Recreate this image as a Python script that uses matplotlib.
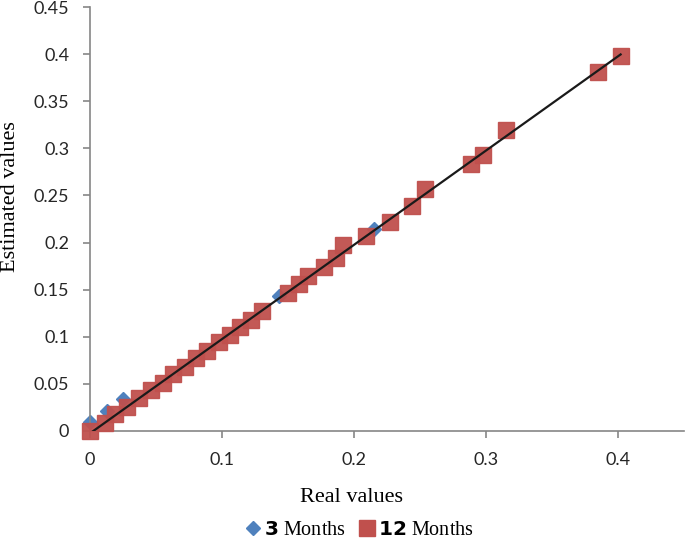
import numpy as np
import matplotlib
matplotlib.use("Agg")
import matplotlib.pyplot as plt
from matplotlib.lines import Line2D

# Values
real_3m = [0.000, 0.013, 0.025, 0.143, 0.215]
est_3m = [0.010, 0.021, 0.034, 0.143, 0.214]

real_12m = [0.000, 0.011, 0.019, 0.028, 0.037, 0.046, 0.055, 0.063, 0.072, 0.080,
            0.089, 0.098, 0.106, 0.114, 0.122, 0.130, 0.150, 0.158, 0.165, 0.177,
            0.186, 0.192, 0.209, 0.227, 0.244, 0.254, 0.289, 0.298, 0.315, 0.385, 0.402]
est_12m = [0.000, 0.009, 0.018, 0.026, 0.035, 0.043, 0.051, 0.060, 0.068, 0.077,
           0.085, 0.094, 0.102, 0.110, 0.118, 0.127, 0.147, 0.156, 0.165, 0.174,
           0.184, 0.197, 0.207, 0.222, 0.239, 0.257, 0.283, 0.293, 0.320, 0.381, 0.398]

x_ticks = [0, 0.1, 0.2, 0.3, 0.4]
y_ticks = [0, 0.05, 0.1, 0.15, 0.2, 0.25, 0.3, 0.35, 0.4, 0.45]

blue = "#4F81BD"
red = "#C0504D"
gray = "#868686"

plt.rcParams["mathtext.fontset"] = "dejavusans"

fig = plt.figure(figsize=(6.85, 5.42), dpi=100)
ax = fig.add_axes([0.1314, 0.2048, 0.8671, 0.7822])

# Scatter points
ax.plot(real_3m, est_3m, linestyle="none", marker="D", markersize=7,
        color=blue, zorder=2, clip_on=False)
ax.plot(real_12m, est_12m, linestyle="none", marker="s", markersize=11.5,
        color=red, alpha=0.95, zorder=3, clip_on=False)

# Linear trend line of the 12 month values
coef = np.polyfit(real_12m, est_12m, 1)
xl = np.array([0, max(real_12m)])
ax.plot(xl, np.polyval(coef, xl), color="#1a1a1a", linewidth=1.6, zorder=4)

ax.set_xlim(0, 0.45)
ax.set_ylim(0, 0.45)
ax.set_xticks(x_ticks)
ax.set_xticklabels(["0", "0.1", "0.2", "0.3", "0.4"])
ax.set_yticks(y_ticks)
ax.set_yticklabels(["0", "0.05", "0.1", "0.15", "0.2", "0.25", "0.3", "0.35", "0.4", "0.45"])

for s in ["top", "right"]:
    ax.spines[s].set_visible(False)
for s in ["left", "bottom"]:
    ax.spines[s].set_color(gray)
    ax.spines[s].set_linewidth(1.2)

ax.tick_params(direction="out", length=5, width=1.2, color=gray,
               labelsize=13, labelcolor="#262626", pad=10)
for lab in ax.get_xticklabels() + ax.get_yticklabels():
    lab.set_family("Lato")

ax.set_xlabel("Real values", family="Liberation Serif", fontsize=16)
ax.set_ylabel("Estimated values", family="Liberation Serif", fontsize=16)
ax.xaxis.set_label_coords((352 - 90) / 594, -0.134)
ax.yaxis.set_label_coords(-0.118, 0.552)

handles = [Line2D([], [], linestyle="none", marker="D", markersize=7, color=blue),
           Line2D([], [], linestyle="none", marker="s", markersize=11, color=red)]
fig.legend(handles, ["$\\mathbf{3}$ Months", "$\\mathbf{12}$ Months"], loc="lower center",
           bbox_to_anchor=(0.523, -0.03), ncol=2, frameon=False,
           prop={"family": "Liberation Serif", "size": 14.5},
           handletextpad=0.0, columnspacing=0.5, handlelength=1.1)

fig.savefig("out.png", dpi=100)
